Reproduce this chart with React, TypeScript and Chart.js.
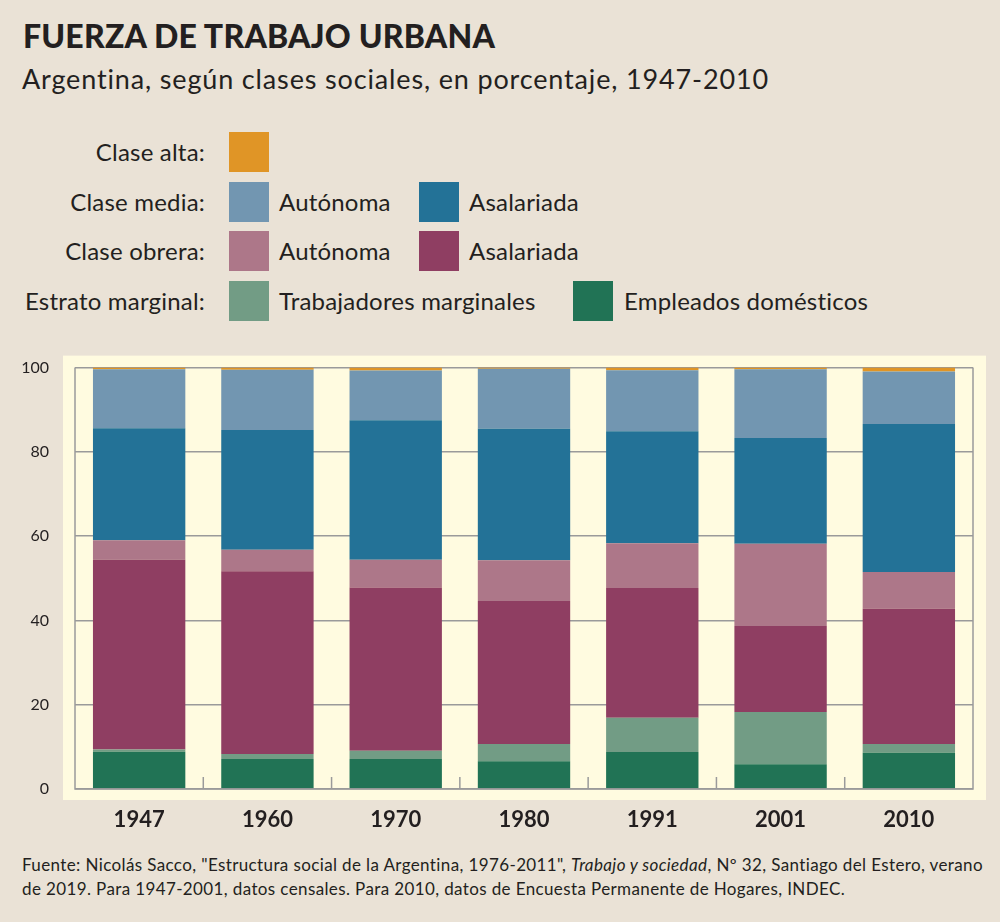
import React, { useEffect, useRef } from "react";
import { Chart, registerables } from "chart.js";

Chart.register(...registerables);

const years = ["1947", "1960", "1970", "1980", "1991", "2001", "2010"];
const empleadosDomesticos = [8.85, 7.1, 7.1, 6.6, 8.8, 5.9, 8.6];
const trabajadoresMarginales = [0.55, 1.2, 2.0, 4.1, 8.1, 12.4, 2.1];
const obreraAsalariada = [45.0, 43.4, 38.7, 33.9, 30.8, 20.4, 32.1];
const obreraAutonoma = [4.6, 5.1, 6.6, 9.7, 10.6, 19.5, 8.7];
const mediaAsalariada = [26.6, 28.4, 33.1, 31.2, 26.6, 25.1, 35.1];
const mediaAutonoma = [14.0, 14.3, 11.8, 14.2, 14.5, 16.3, 12.5];
const claseAlta = [0.4, 0.5, 0.7, 0.3, 0.6, 0.4, 0.9];
const yTicks = [0, 20, 40, 60, 80, 100];

const COLORS = {
  alta: "#E09526",
  mediaAut: "#7296B1",
  mediaAsal: "#237297",
  obreraAut: "#AD7789",
  obreraAsal: "#8F3E62",
  marg: "#729C85",
  dom: "#217355",
};

const FONT = "Lato, 'Open Sans', sans-serif";
const TEXT = "#231F20";
const BG = "#EAE2D6";
const PANEL = "#FFFBE0";
const GRID = "#9A9A9A";

const panelPlugin = {
  id: "panel",
  beforeDraw(chart: any) {
    const { ctx, chartArea } = chart;
    ctx.save();
    ctx.fillStyle = PANEL;
    ctx.fillRect(chartArea.left - 12, chartArea.top - 12, chartArea.right - chartArea.left + 25, chartArea.bottom - chartArea.top + 23);
    ctx.restore();
  },
  afterDatasetsDraw(chart: any) {
    const { ctx, chartArea, scales } = chart;
    const x = scales.x;
    ctx.save();
    ctx.strokeStyle = GRID;
    ctx.lineWidth = 1.5;
    for (let i = 1; i < years.length; i++) {
      const px = (x.getPixelForValue(i - 1) + x.getPixelForValue(i)) / 2;
      ctx.beginPath();
      ctx.moveTo(px, chartArea.bottom);
      ctx.lineTo(px, chartArea.bottom - 12);
      ctx.stroke();
    }
    ctx.beginPath();
    ctx.moveTo(chartArea.left, chartArea.top);
    ctx.lineTo(chartArea.left, chartArea.bottom);
    ctx.lineTo(chartArea.right, chartArea.bottom);
    ctx.lineTo(chartArea.right, chartArea.top);
    ctx.stroke();
    ctx.restore();
  },
};

function Swatch({ color, left, top }: { color: string; left: number; top: number }) {
  return (
    <div style={{ position: "absolute", left, top, width: 40, height: 40, background: color }} />
  );
}

function Label({ text, left, top, right }: { text: string; left?: number; top: number; right?: number }) {
  const style: React.CSSProperties = {
    position: "absolute",
    top,
    fontSize: 24,
    letterSpacing: "0.2px",
    lineHeight: "40px",
    whiteSpace: "nowrap",
    color: TEXT,
  };
  if (right !== undefined) {
    style.right = 1000 - right;
    style.textAlign = "right";
  } else style.left = left;
  return <div style={style}>{text}</div>;
}

export default function App() {
  const canvasRef = useRef<HTMLCanvasElement | null>(null);

  useEffect(() => {
    document.body.style.margin = "0";
    const canvas = canvasRef.current!;
    const mk = (label: string, data: number[], color: string) => ({
      label,
      data,
      backgroundColor: color,
      borderWidth: 0,
      barPercentage: 0.72,
      categoryPercentage: 1,
    });
    const chart = new Chart(canvas, {
      type: "bar",
      data: {
        labels: years,
        datasets: [
          mk("Empleados domésticos", empleadosDomesticos, COLORS.dom),
          mk("Trabajadores marginales", trabajadoresMarginales, COLORS.marg),
          mk("Clase obrera asalariada", obreraAsalariada, COLORS.obreraAsal),
          mk("Clase obrera autónoma", obreraAutonoma, COLORS.obreraAut),
          mk("Clase media asalariada", mediaAsalariada, COLORS.mediaAsal),
          mk("Clase media autónoma", mediaAutonoma, COLORS.mediaAut),
          mk("Clase alta", claseAlta, COLORS.alta),
        ],
      },
      options: {
        animation: false,
        responsive: false,
        maintainAspectRatio: false,
        layout: { padding: { left: 0, top: 19, right: 27, bottom: 0 } },
        plugins: { legend: { display: false }, tooltip: { enabled: false } },
        scales: {
          x: {
            stacked: true,
            grid: { display: false },
            border: { display: false },
            ticks: { color: TEXT, font: { family: FONT, size: 22, weight: "bold" }, padding: 10 },
            afterFit: (s: any) => { s.height = 51; },
          },
          y: {
            stacked: true,
            min: 0,
            max: 100,
            afterBuildTicks: (s: any) => { s.ticks = yTicks.map((v) => ({ value: v })); },
            grid: { color: GRID, lineWidth: 1.5, drawTicks: false },
            border: { display: false },
            ticks: { color: TEXT, font: { family: FONT, size: 16 }, padding: 26 },
            afterFit: (s: any) => { s.width = 75; },
          },
        },
      },
      plugins: [panelPlugin],
    });
    return () => chart.destroy();
  }, []);

  const rows = [132, 182, 231, 281];
  return (
    <div style={{ position: "relative", width: 1000, height: 922, background: BG, fontFamily: FONT, color: TEXT, overflow: "hidden" }}>
      <div style={{ position: "absolute", left: 23, top: 16, fontSize: 32, letterSpacing: "0.2px", fontWeight: 900, lineHeight: "40px", whiteSpace: "nowrap" }}>
        FUERZA DE TRABAJO URBANA
      </div>
      <div style={{ position: "absolute", left: 22, top: 61, fontSize: 27, letterSpacing: "0.85px", lineHeight: "36px", whiteSpace: "nowrap" }}>
        Argentina, según clases sociales, en porcentaje, 1947-2010
      </div>

      <Label text="Clase alta:" right={205} top={rows[0]} />
      <Swatch color={COLORS.alta} left={229} top={rows[0]} />

      <Label text="Clase media:" right={205} top={rows[1]} />
      <Swatch color={COLORS.mediaAut} left={229} top={rows[1]} />
      <Label text="Autónoma" left={279} top={rows[1]} />
      <Swatch color={COLORS.mediaAsal} left={419} top={rows[1]} />
      <Label text="Asalariada" left={469} top={rows[1]} />

      <Label text="Clase obrera:" right={205} top={rows[2]} />
      <Swatch color={COLORS.obreraAut} left={229} top={rows[2]} />
      <Label text="Autónoma" left={279} top={rows[2]} />
      <Swatch color={COLORS.obreraAsal} left={419} top={rows[2]} />
      <Label text="Asalariada" left={469} top={rows[2]} />

      <Label text="Estrato marginal:" right={205} top={rows[3]} />
      <Swatch color={COLORS.marg} left={229} top={rows[3]} />
      <Label text="Trabajadores marginales" left={279} top={rows[3]} />
      <Swatch color={COLORS.dom} left={573} top={rows[3]} />
      <Label text="Empleados domésticos" left={624} top={rows[3]} />

      <canvas ref={canvasRef} width={1000} height={508} style={{ position: "absolute", left: 0, top: 332, width: 1000, height: 508 }} />

      <div style={{ position: "absolute", left: 22, top: 853, fontSize: 17, letterSpacing: "0.38px", lineHeight: "24px", width: 975, whiteSpace: "nowrap" }}>
        <div>
          Fuente: Nicolás Sacco, "Estructura social de la Argentina, 1976-2011", <i>Trabajo y sociedad</i>, Nº 32, Santiago del Estero, verano
        </div>
        <div>de 2019. Para 1947-2001, datos censales. Para 2010, datos de Encuesta Permanente de Hogares, INDEC.</div>
      </div>
    </div>
  );
}
